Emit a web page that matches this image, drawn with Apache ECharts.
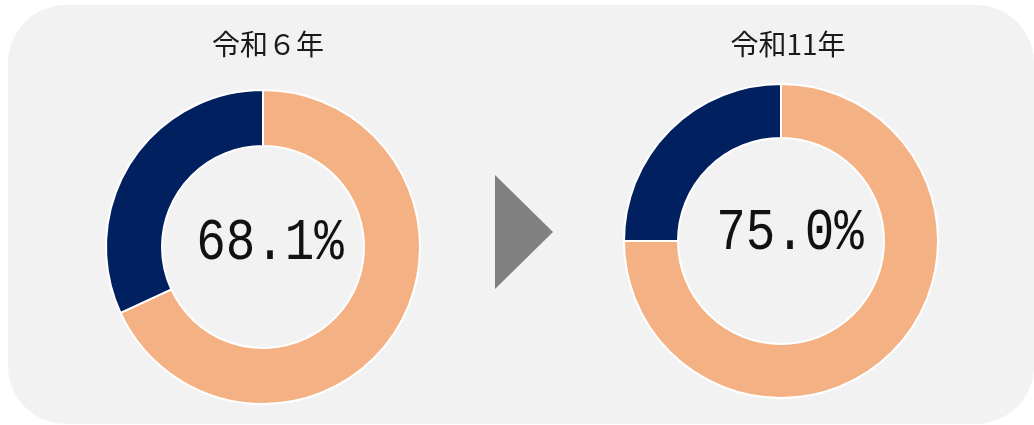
<!DOCTYPE html>
<html>
<head>
<meta charset="utf-8">
<script src="https://cdn.jsdelivr.net/npm/echarts@6/dist/echarts.min.js"></script>
<style>
  html, body { margin: 0; padding: 0; background: #fff; }
  #main { width: 1034px; height: 425px; }
</style>
</head>
<body>
<div id="main"></div>
<script>
// 年度ラベル
var years = ['令和６年', '令和11年'];
// 割合（%）: [対象, その他]
var shareR6 = [68.1, 31.9];
var shareR11 = [75.0, 25.0];
var colors = ['#F4B183', '#002060'];

var chart = echarts.init(document.getElementById('main'));

function donut(vals, center, radius) {
  return {
    type: 'pie',
    center: center,
    radius: radius,
    startAngle: 90,
    clockwise: true,
    silent: true,
    label: { show: false },
    labelLine: { show: false },
    itemStyle: { borderColor: '#fff', borderWidth: 2 },
    data: vals.map(function (v, i) {
      return { value: v, itemStyle: { color: colors[i] } };
    })
  };
}

// 中央の数値（等幅フォントを横に縮めて表示）
function pctText(v, x, y) {
  return {
    type: 'text',
    x: x, y: y,
    scaleX: 0.82,
    z: 10,
    style: {
      text: v.toFixed(1) + '%',
      font: '60px "Liberation Mono"',
      fill: '#111',
      align: 'center',
      verticalAlign: 'middle'
    }
  };
}

var titleStyle = { fontFamily: 'Noto Sans CJK JP', fontWeight: 'normal', fontSize: 28, color: '#1a1a1a' };

var option = {
  animation: false,
  title: [
    { text: years[0], left: 263, top: 25, textAlign: 'center', textStyle: titleStyle },
    { text: years[1], left: 783, top: 25, textAlign: 'center', textStyle: titleStyle }
  ],
  graphic: [
    { type: 'rect', z: -10, shape: { x: 8, y: 5, width: 1026, height: 419, r: 58 },
      style: { fill: '#f2f2f2' } },
    { type: 'polygon', shape: { points: [[495, 175], [553, 232], [495, 289]] },
      style: { fill: '#808080' } },
    pctText(shareR6[0], 270, 243),
    pctText(shareR11[0], 790, 233)
  ],
  series: [
    donut(shareR6, [263, 247], [101, 157]),
    donut(shareR11, [781, 241], [103, 157])
  ]
};

chart.setOption(option);
</script>
</body>
</html>
